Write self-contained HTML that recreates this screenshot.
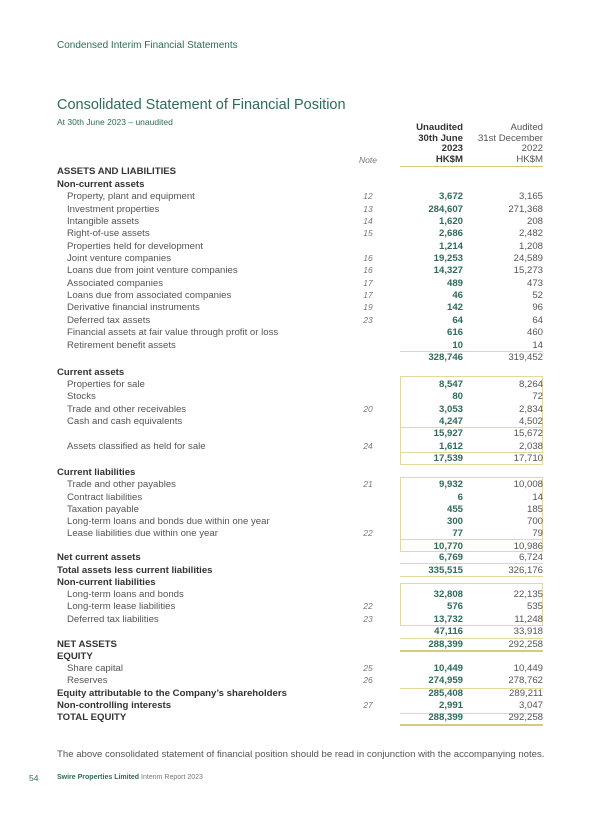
<!DOCTYPE html>
<html><head><meta charset="utf-8"><style>
body{margin:0;width:600px;height:814px;background:#fff;position:relative;font-family:"Liberation Sans",sans-serif;color:#555;overflow:hidden}
.a{position:absolute;white-space:nowrap}
.r{position:absolute;left:0;width:600px;height:12px;line-height:12px;font-size:9.6px}
.r .l{position:absolute;left:67px}
.r .h{position:absolute;left:57px;font-weight:bold;color:#333}
.r .n{position:absolute;left:358px;width:20px;text-align:center;font-style:italic;color:#777;font-size:8.5px;line-height:11px}
.r .c1{position:absolute;right:137px;font-weight:bold;color:#2f6b5a}
.r .c2{position:absolute;right:57px;color:#555}
.ln{position:absolute;left:400px;width:143px;height:0;border-top:1px solid #e2d9a0}
.tk{position:absolute;left:400px;width:143px;height:0;border-top:2px solid #d8ca7c}
.box{position:absolute;left:400px;width:141px;border:1px solid #e2d9a0}
</style></head><body>
<div class="a" style="left:57px;top:40px;font-size:10px;color:#2f6b5a">Condensed Interim Financial Statements</div>
<div class="a" style="left:57px;top:97px;font-size:14.5px;color:#2f6b5a">Consolidated Statement of Financial Position</div>
<div class="a" style="left:57px;top:117px;font-size:8.5px;color:#2f6b5a">At 30th June 2023 – unaudited</div>
<div class="a" style="right:137px;top:123px;font-size:9.6px;line-height:10.6px;text-align:right;font-weight:bold;color:#333">Unaudited<br>30th June<br>2023<br>HK$M</div>
<div class="a" style="right:57px;top:123px;font-size:9.6px;line-height:10.6px;text-align:right;color:#555">Audited<br>31st December<br>2022<br>HK$M</div>
<div class="a" style="left:358px;width:20px;text-align:center;top:155px;font-size:8.5px;font-style:italic;color:#777">Note</div>
<div class="ln" style="top:166px;border-top-color:#d8ca7c"></div>

<div class="r" style="top:166px"><span class="h">ASSETS AND LIABILITIES</span></div>
<div class="r" style="top:178.5px"><span class="h">Non-current assets</span></div>
<div class="r" style="top:191px"><span class="l">Property, plant and equipment</span><span class="n">12</span><span class="c1">3,672</span><span class="c2">3,165</span></div>
<div class="r" style="top:203.5px"><span class="l">Investment properties</span><span class="n">13</span><span class="c1">284,607</span><span class="c2">271,368</span></div>
<div class="r" style="top:216px"><span class="l">Intangible assets</span><span class="n">14</span><span class="c1">1,620</span><span class="c2">208</span></div>
<div class="r" style="top:228px"><span class="l">Right-of-use assets</span><span class="n">15</span><span class="c1">2,686</span><span class="c2">2,482</span></div>
<div class="r" style="top:240.5px"><span class="l">Properties held for development</span><span class="c1">1,214</span><span class="c2">1,208</span></div>
<div class="r" style="top:253px"><span class="l">Joint venture companies</span><span class="n">16</span><span class="c1">19,253</span><span class="c2">24,589</span></div>
<div class="r" style="top:265px"><span class="l">Loans due from joint venture companies</span><span class="n">16</span><span class="c1">14,327</span><span class="c2">15,273</span></div>
<div class="r" style="top:277.5px"><span class="l">Associated companies</span><span class="n">17</span><span class="c1">489</span><span class="c2">473</span></div>
<div class="r" style="top:290px"><span class="l">Loans due from associated companies</span><span class="n">17</span><span class="c1">46</span><span class="c2">52</span></div>
<div class="r" style="top:302px"><span class="l">Derivative financial instruments</span><span class="n">19</span><span class="c1">142</span><span class="c2">96</span></div>
<div class="r" style="top:314.5px"><span class="l">Deferred tax assets</span><span class="n">23</span><span class="c1">64</span><span class="c2">64</span></div>
<div class="r" style="top:327px"><span class="l">Financial assets at fair value through profit or loss</span><span class="c1">616</span><span class="c2">460</span></div>
<div class="r" style="top:339.5px"><span class="l">Retirement benefit assets</span><span class="c1">10</span><span class="c2">14</span></div>
<div class="ln" style="top:351px"></div>
<div class="r" style="top:351.5px"><span class="c1">328,746</span><span class="c2">319,452</span></div>

<div class="r" style="top:366.5px"><span class="h">Current assets</span></div>
<div class="box" style="top:376px;height:87px"></div>
<div class="ln" style="top:427px"></div>
<div class="ln" style="top:452px"></div>
<div class="r" style="top:379px"><span class="l">Properties for sale</span><span class="c1">8,547</span><span class="c2">8,264</span></div>
<div class="r" style="top:391px"><span class="l">Stocks</span><span class="c1">80</span><span class="c2">72</span></div>
<div class="r" style="top:403.5px"><span class="l">Trade and other receivables</span><span class="n">20</span><span class="c1">3,053</span><span class="c2">2,834</span></div>
<div class="r" style="top:415.5px"><span class="l">Cash and cash equivalents</span><span class="c1">4,247</span><span class="c2">4,502</span></div>
<div class="r" style="top:428px"><span class="c1">15,927</span><span class="c2">15,672</span></div>
<div class="r" style="top:440.5px"><span class="l">Assets classified as held for sale</span><span class="n">24</span><span class="c1">1,612</span><span class="c2">2,038</span></div>
<div class="r" style="top:452.5px"><span class="c1">17,539</span><span class="c2">17,710</span></div>

<div class="r" style="top:467px"><span class="h">Current liabilities</span></div>
<div class="box" style="top:477px;height:73px"></div>
<div class="ln" style="top:539px"></div>
<div class="ln" style="top:563px"></div>
<div class="ln" style="top:576px"></div>
<div class="r" style="top:479px"><span class="l">Trade and other payables</span><span class="n">21</span><span class="c1">9,932</span><span class="c2">10,008</span></div>
<div class="r" style="top:491.5px"><span class="l">Contract liabilities</span><span class="c1">6</span><span class="c2">14</span></div>
<div class="r" style="top:503.5px"><span class="l">Taxation payable</span><span class="c1">455</span><span class="c2">185</span></div>
<div class="r" style="top:516px"><span class="l">Long-term loans and bonds due within one year</span><span class="c1">300</span><span class="c2">700</span></div>
<div class="r" style="top:528px"><span class="l">Lease liabilities due within one year</span><span class="n">22</span><span class="c1">77</span><span class="c2">79</span></div>
<div class="r" style="top:540.5px"><span class="c1">10,770</span><span class="c2">10,986</span></div>
<div class="r" style="top:552px"><span class="h">Net current assets</span><span class="c1">6,769</span><span class="c2">6,724</span></div>
<div class="r" style="top:564.5px"><span class="h">Total assets less current liabilities</span><span class="c1">335,515</span><span class="c2">326,176</span></div>
<div class="r" style="top:576.5px"><span class="h">Non-current liabilities</span></div>
<div class="box" style="top:583px;height:41px"></div>
<div class="ln" style="top:638px"></div>
<div class="tk" style="top:650px"></div>
<div class="r" style="top:589px"><span class="l">Long-term loans and bonds</span><span class="c1">32,808</span><span class="c2">22,135</span></div>
<div class="r" style="top:601px"><span class="l">Long-term lease liabilities</span><span class="n">22</span><span class="c1">576</span><span class="c2">535</span></div>
<div class="r" style="top:613.5px"><span class="l">Deferred tax liabilities</span><span class="n">23</span><span class="c1">13,732</span><span class="c2">11,248</span></div>
<div class="r" style="top:626px"><span class="c1">47,116</span><span class="c2">33,918</span></div>
<div class="r" style="top:638.5px"><span class="h">NET ASSETS</span><span class="c1">288,399</span><span class="c2">292,258</span></div>
<div class="r" style="top:650.5px"><span class="h">EQUITY</span></div>
<div class="ln" style="top:688px"></div>
<div class="ln" style="top:713px"></div>
<div class="tk" style="top:724px"></div>
<div class="r" style="top:663px"><span class="l">Share capital</span><span class="n">25</span><span class="c1">10,449</span><span class="c2">10,449</span></div>
<div class="r" style="top:675px"><span class="l">Reserves</span><span class="n">26</span><span class="c1">274,959</span><span class="c2">278,762</span></div>
<div class="r" style="top:687.5px"><span class="h">Equity attributable to the Company’s shareholders</span><span class="c1">285,408</span><span class="c2">289,211</span></div>
<div class="r" style="top:700px"><span class="h">Non-controlling interests</span><span class="n">27</span><span class="c1">2,991</span><span class="c2">3,047</span></div>
<div class="r" style="top:712px"><span class="h">TOTAL EQUITY</span><span class="c1">288,399</span><span class="c2">292,258</span></div>

<div class="a" style="left:57px;top:749px;font-size:9.6px;color:#555">The above consolidated statement of financial position should be read in conjunction with the accompanying notes.</div>
<div class="a" style="left:29px;top:773px;font-size:8.5px;color:#2f6b5a">54</div>
<div class="a" style="left:57px;top:774px;font-size:7px;color:#2f6b5a"><b>Swire Properties Limited</b> <span style="color:#777">Interim Report 2023</span></div>
</body></html>
